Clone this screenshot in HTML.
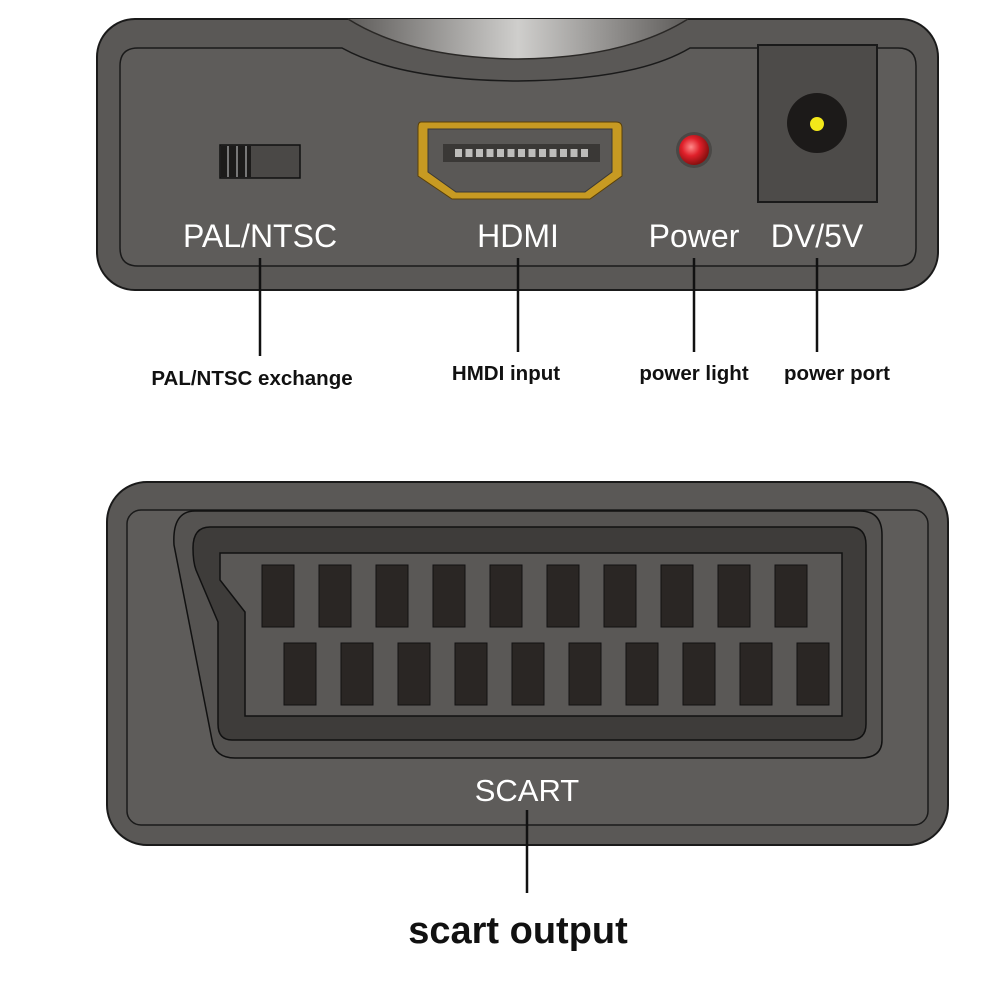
<!DOCTYPE html>
<html><head><meta charset="utf-8"><style>
html,body{margin:0;padding:0;background:#fff;width:1000px;height:1000px;overflow:hidden}
svg{display:block}
</style></head><body>
<svg width="1000" height="1000" viewBox="0 0 1000 1000" xmlns="http://www.w3.org/2000/svg" font-family="Liberation Sans, Arial, sans-serif">
<defs>
<linearGradient id="arc" x1="0" x2="1" y1="0" y2="0">
<stop offset="0" stop-color="#5e5c5a"/><stop offset="0.5" stop-color="#cfcecc"/><stop offset="1" stop-color="#5e5c5a"/>
</linearGradient>
<radialGradient id="led" cx="0.4" cy="0.4" r="0.6">
<stop offset="0" stop-color="#ff8a8a"/><stop offset="0.5" stop-color="#e0202a"/><stop offset="1" stop-color="#8a1010"/>
</radialGradient>
</defs>
<!-- TOP DEVICE -->
<rect x="97" y="19" width="841" height="271" rx="38" fill="#5a5856" stroke="#1a1a1a" stroke-width="2"/>
<path d="M138,48 H342 Q400,80 518,81 Q636,80 690,48 H898 Q916,48 916,66 V248 Q916,266 898,266 H138 Q120,266 120,248 V66 Q120,48 138,48 Z" fill="#5e5c5a" stroke="#1a1a1a" stroke-width="1.5"/>
<!-- top arc gradient -->
<path d="M348,19 Q410,58 518,59 Q626,58 688,19 Z" fill="url(#arc)"/>
<path d="M348,19 Q410,58 518,59 Q626,58 688,19" fill="none" stroke="#2a2826" stroke-width="1.5"/>
<!-- switch -->
<rect x="220" y="145" width="80" height="33" fill="#4a4846" stroke="#111" stroke-width="1.5"/>
<rect x="221" y="146" width="30" height="31" fill="#1c1b1a"/>
<line x1="228" y1="146" x2="228" y2="177" stroke="#777" stroke-width="2"/>
<line x1="237" y1="146" x2="237" y2="177" stroke="#777" stroke-width="2"/>
<line x1="246" y1="146" x2="246" y2="177" stroke="#777" stroke-width="2"/>
<!-- HDMI -->
<path d="M421,122 H616 Q622,122 622,128 V176 L590,199 H452 L418,176 V128 Q418,122 421,122 Z" fill="#c79a22" stroke="#5a4008" stroke-width="1"/>
<path d="M428,129 H612 V172 L585,192 H456 L428,172 Z" fill="#5a5856" stroke="#3a3836" stroke-width="1"/>
<rect x="443" y="144" width="157" height="18" fill="#3a3836"/>
<g fill="#bdbcba">
<rect x="455" y="149" width="7" height="8"/><rect x="465.5" y="149" width="7" height="8"/><rect x="476" y="149" width="7" height="8"/><rect x="486.5" y="149" width="7" height="8"/><rect x="497" y="149" width="7" height="8"/><rect x="507.5" y="149" width="7" height="8"/><rect x="518" y="149" width="7" height="8"/><rect x="528.5" y="149" width="7" height="8"/><rect x="539" y="149" width="7" height="8"/><rect x="549.5" y="149" width="7" height="8"/><rect x="560" y="149" width="7" height="8"/><rect x="570.5" y="149" width="7" height="8"/><rect x="581" y="149" width="7" height="8"/>
</g>
<!-- LED -->
<circle cx="694" cy="150" r="18" fill="#4a4846"/>
<circle cx="694" cy="150" r="15" fill="url(#led)"/>
<!-- DV box -->
<rect x="758" y="45" width="119" height="157" fill="#4d4b49" stroke="#1a1a1a" stroke-width="2"/>
<circle cx="817" cy="123" r="30" fill="#1c1a19"/>
<circle cx="817" cy="124" r="7" fill="#f3e81a"/>
<!-- labels -->
<g fill="#fff" font-size="32" text-anchor="middle">
<text x="260" y="247">PAL/NTSC</text>
<text x="518" y="247">HDMI</text>
<text x="694" y="247">Power</text>
<text x="817" y="247">DV/5V</text>
</g>
<g stroke="#111" stroke-width="2.5">
<line x1="260" y1="258" x2="260" y2="356"/>
<line x1="518" y1="258" x2="518" y2="352"/>
<line x1="694" y1="258" x2="694" y2="352"/>
<line x1="817" y1="258" x2="817" y2="352"/>
</g>
<g fill="#111" font-size="20.5" font-weight="bold" text-anchor="middle">
<text x="252" y="385">PAL/NTSC exchange</text>
<text x="506" y="380">HMDI input</text>
<text x="694" y="380">power light</text>
<text x="837" y="380">power port</text>
</g>
<!-- BOTTOM DEVICE -->
<rect x="107" y="482" width="841" height="363" rx="40" fill="#5a5856" stroke="#1a1a1a" stroke-width="2"/>
<rect x="127" y="510" width="801" height="315" rx="14" fill="#5e5c5a" stroke="#1a1a1a" stroke-width="1.5"/>
<!-- scart outer -->
<path d="M195,511 H860 Q882,511 882,535 V740 Q882,758 860,758 H235 Q215,758 212,740 L174,545 Q172,511 195,511 Z" fill="#555351" stroke="#111" stroke-width="1.5"/>
<!-- dark band -->
<path d="M210,527 H850 Q866,527 866,545 V724 Q866,740 850,740 H232 Q218,740 218,724 V622 L196,570 Q193,562 193,548 Q193,527 210,527 Z" fill="#3e3c3a" stroke="#111" stroke-width="1.5"/>
<!-- pin frame -->
<path d="M220,553 H842 V716 H245 V612 L220,580 Z" fill="#5a5856" stroke="#111" stroke-width="1.5"/>
<g fill="#2a2624" stroke="#111" stroke-width="1">
<rect x="262" y="565" width="32" height="62"/><rect x="319" y="565" width="32" height="62"/><rect x="376" y="565" width="32" height="62"/><rect x="433" y="565" width="32" height="62"/><rect x="490" y="565" width="32" height="62"/><rect x="547" y="565" width="32" height="62"/><rect x="604" y="565" width="32" height="62"/><rect x="661" y="565" width="32" height="62"/><rect x="718" y="565" width="32" height="62"/><rect x="775" y="565" width="32" height="62"/>
<rect x="284" y="643" width="32" height="62"/><rect x="341" y="643" width="32" height="62"/><rect x="398" y="643" width="32" height="62"/><rect x="455" y="643" width="32" height="62"/><rect x="512" y="643" width="32" height="62"/><rect x="569" y="643" width="32" height="62"/><rect x="626" y="643" width="32" height="62"/><rect x="683" y="643" width="32" height="62"/><rect x="740" y="643" width="32" height="62"/><rect x="797" y="643" width="32" height="62"/>
</g>
<text x="527" y="801" fill="#fff" font-size="31" text-anchor="middle">SCART</text>
<line x1="527" y1="810" x2="527" y2="893" stroke="#111" stroke-width="2.5"/>
<text x="518" y="943" fill="#111" font-size="38" font-weight="bold" text-anchor="middle">scart output</text>
</svg>
</body></html>
